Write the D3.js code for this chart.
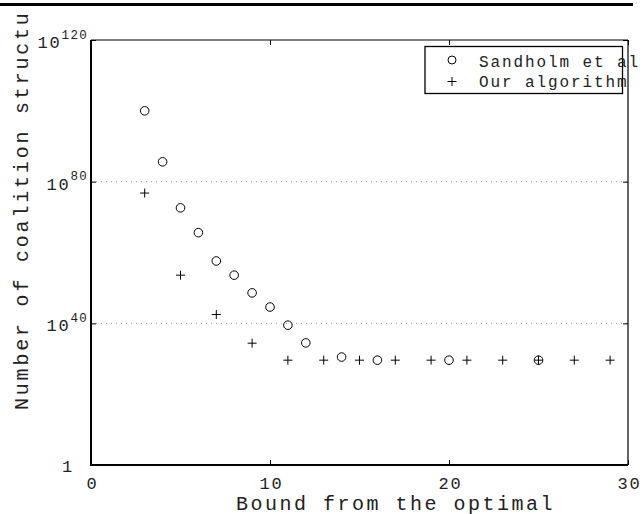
<!DOCTYPE html>
<html>
<head>
<meta charset="utf-8">
<script src="https://cdn.jsdelivr.net/npm/d3@7"></script>
<style>
  body { margin: 0; background: #fff; }
  svg { display: block; font-family: "Liberation Mono", "Courier New", monospace; }
</style>
</head>
<body>
<div id="chart"></div>
<script>
// Sandholm et al. bound (circles)
const sandholmX = [3, 4, 5, 6, 7, 8, 9, 10, 11, 12, 14, 16, 20, 25];
const sandholmY = [1e100, 4e85, 4e72, 4e65, 4e57, 4e53, 4e48, 4e44, 3e39, 3e34, 3e30, 4e29, 4e29, 4e29];
// Our algorithm (pluses)
const oursX = [3, 5, 7, 9, 11, 13, 15, 17, 19, 21, 23, 25, 27, 29];
const oursY = [6e76, 4e53, 3e42, 2.5e34, 4e29, 4e29, 4e29, 4e29, 4e29, 4e29, 4e29, 4e29, 4e29, 4e29];

const xTicks = [0, 10, 20, 30];
const yTicks = [1, 1e40, 1e80, 1e120];
const gridTicks = [1e40, 1e80];
const seriesNames = ["Sandholm et al", "Our algorithm"];

function buildChart() {
  const width = 644;
  const height = 514;
  const margin = { left: 91, right: 16, top: 40, bottom: 49 };

  const svg = d3.select("#chart")
    .append("svg")
    .attr("width", width)
    .attr("height", height);

  const x = d3.scaleLinear()
    .domain([0, 30])
    .range([margin.left, width - margin.right]);
  const y = d3.scaleLog()
    .domain([1, 1e120])
    .range([height - margin.bottom, margin.top]);

  const [x0, x1] = x.range();
  const [yb, yt] = y.range();

  // black rule across the top of the page
  svg.append("rect")
    .attr("x", 0).attr("y", 3)
    .attr("width", 633).attr("height", 3)
    .attr("fill", "#000");

  // dotted grid lines
  svg.append("g")
    .selectAll("line")
    .data(gridTicks)
    .join("line")
    .attr("x1", x0).attr("x2", x1)
    .attr("y1", d => y(d)).attr("y2", d => y(d))
    .attr("stroke", "#999")
    .attr("stroke-width", 1)
    .attr("stroke-dasharray", "1,4");

  // axes (ticks inside, matlab style)
  const xAxis = d3.axisBottom(x).tickValues(xTicks).tickSize(-5).tickSizeOuter(0).tickPadding(12);
  const gx = svg.append("g")
    .attr("transform", `translate(0,${yb})`)
    .call(xAxis);
  gx.select(".domain").remove();
  gx.selectAll("text")
    .attr("font-size", 17)
    .attr("font-family", "Liberation Mono")
    .attr("letter-spacing", 1.8)
    .attr("dx", 0.9)
    .attr("fill", "#222");

  const xTop = d3.axisTop(x).tickValues(xTicks).tickSize(-5).tickFormat("");
  const gxt = svg.append("g").attr("transform", `translate(0,${yt})`).call(xTop);
  gxt.select(".domain").remove();

  const yAxis = d3.axisLeft(y).tickValues(yTicks).tickSize(-5).tickFormat("");
  const gy = svg.append("g").attr("transform", `translate(${x0},0)`).call(yAxis);
  gy.select(".domain").remove();

  const yRight = d3.axisRight(y).tickValues(yTicks).tickSize(-5).tickFormat("");
  const gyr = svg.append("g").attr("transform", `translate(${x1},0)`).call(yRight);
  gyr.select(".domain").remove();

  // y tick labels with superscripts
  gy.selectAll(".tick").each(function(d) {
    const g = d3.select(this);
    const p = Math.round(Math.log10(d));
    const t = g.append("text")
      .attr("fill", "#222")
      .attr("text-anchor", "end")
      .attr("font-family", "Liberation Mono")
      .attr("letter-spacing", 1.8)
      .attr("font-size", 17);
    if (p === 0) {
      t.attr("x", 74 - x0).attr("y", 6).text("1");
    } else {
      t.attr("x", 88 - x0).attr("y", 7.5);
      t.append("tspan").text("10");
      t.append("tspan").attr("font-size", 12.5).attr("letter-spacing", 1.3).attr("dy", -9.5).text(p);
    }
  });

  // frame
  svg.append("line").attr("x1", x0).attr("x2", x1).attr("y1", yt).attr("y2", yt).attr("stroke", "#000").attr("stroke-width", 1.2);
  svg.append("line").attr("x1", x1).attr("x2", x1).attr("y1", yt).attr("y2", yb).attr("stroke", "#000").attr("stroke-width", 1.2);
  svg.append("line").attr("x1", x0).attr("x2", x1).attr("y1", yb).attr("y2", yb).attr("stroke", "#000").attr("stroke-width", 2);
  svg.append("line").attr("x1", x0).attr("x2", x0).attr("y1", yt).attr("y2", yb + 1).attr("stroke", "#000").attr("stroke-width", 2);

  // circles
  svg.append("g")
    .selectAll("circle")
    .data(sandholmX.map((d, i) => [d, sandholmY[i]]))
    .join("circle")
    .attr("cx", d => x(d[0]))
    .attr("cy", d => y(d[1]))
    .attr("r", 4.3)
    .attr("fill", "none")
    .attr("stroke", "#000")
    .attr("stroke-width", 1);

  // pluses
  const plus = (cx, cy, s) => `M${cx - s},${cy}H${cx + s}M${cx},${cy - s}V${cy + s}`;
  svg.append("g")
    .selectAll("path")
    .data(oursX.map((d, i) => [d, oursY[i]]))
    .join("path")
    .attr("d", d => plus(x(d[0]), y(d[1]), 4.5))
    .attr("stroke", "#000")
    .attr("stroke-width", 1);

  // legend
  const lg = svg.append("g");
  lg.append("rect")
    .attr("x", 425).attr("y", 46.5)
    .attr("width", 197.5).attr("height", 47)
    .attr("fill", "#fff")
    .attr("stroke", "#000")
    .attr("stroke-width", 1.3);
  lg.append("circle")
    .attr("cx", 452).attr("cy", 60)
    .attr("r", 4)
    .attr("fill", "none").attr("stroke", "#000");
  lg.append("path")
    .attr("d", plus(452, 81.5, 4.5))
    .attr("stroke", "#000");
  lg.selectAll("text")
    .data(seriesNames)
    .join("text")
    .attr("x", 479)
    .attr("y", (d, i) => 66.5 + i * 20)
    .attr("font-size", 16)
    .attr("letter-spacing", 1.9)
    .attr("fill", "#222")
    .text(d => d);

  // axis titles
  svg.append("text")
    .attr("x", 236)
    .attr("y", 510)
    .attr("font-size", 20)
    .attr("letter-spacing", 2.5)
    .attr("fill", "#222")
    .text("Bound from the optimal");

  svg.append("clipPath").attr("id", "ylab-clip")
    .append("rect").attr("x", 0).attr("y", 12).attr("width", 60).attr("height", 500);
  svg.append("g")
    .attr("clip-path", "url(#ylab-clip)")
    .append("text")
    .attr("transform", "translate(28,410) rotate(-90)")
    .attr("font-size", 20)
    .attr("letter-spacing", 2.8)
    .attr("fill", "#222")
    .text("Number of coalition structures");
}

window.onload = buildChart;
</script>
</body>
</html>
